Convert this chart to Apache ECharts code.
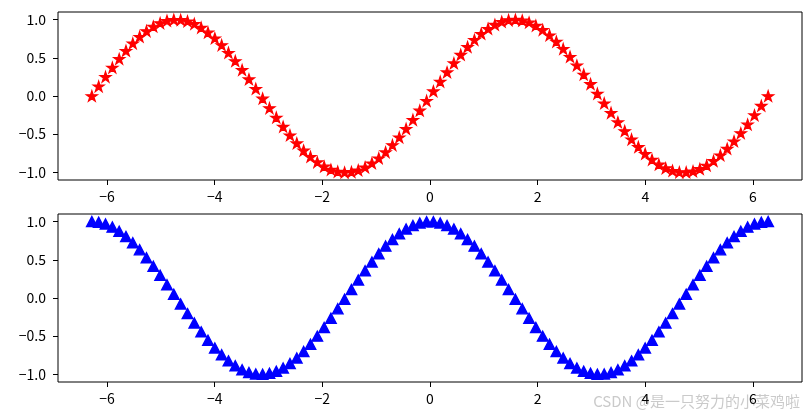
<!DOCTYPE html>
<html>
<head>
<meta charset="utf-8">
<script src="https://cdn.jsdelivr.net/npm/echarts@6/dist/echarts.min.js"></script>
<style>
html,body{margin:0;padding:0;background:#fff;}
#chart{width:812px;height:419px;}
</style>
</head>
<body>
<div id="chart"></div>
<script>
// x sampled from -2π to 2π (100 points)
const xValues = [
-6.283,-6.156,-6.029,-5.902,-5.775,-5.649,-5.522,-5.395,-5.268,-5.141,
-5.014,-4.887,-4.760,-4.633,-4.506,-4.379,-4.252,-4.125,-3.998,-3.871,
-3.745,-3.618,-3.491,-3.364,-3.237,-3.110,-2.983,-2.856,-2.729,-2.602,
-2.475,-2.348,-2.221,-2.094,-1.967,-1.841,-1.714,-1.587,-1.460,-1.333,
-1.206,-1.079,-0.952,-0.825,-0.698,-0.571,-0.444,-0.317,-0.190,-0.063,
0.063,0.190,0.317,0.444,0.571,0.698,0.825,0.952,1.079,1.206,
1.333,1.460,1.587,1.714,1.841,1.967,2.094,2.221,2.348,2.475,
2.602,2.729,2.856,2.983,3.110,3.237,3.364,3.491,3.618,3.745,
3.871,3.998,4.125,4.252,4.379,4.506,4.633,4.760,4.887,5.014,
5.141,5.268,5.395,5.522,5.649,5.775,5.902,6.029,6.156,6.283
];
// top panel: red stars
const sinValues = [
0.000,0.127,0.251,0.372,0.486,0.593,0.690,0.776,0.850,0.910,
0.955,0.985,0.999,0.997,0.979,0.945,0.896,0.833,0.756,0.667,
0.567,0.458,0.342,0.220,0.095,-0.032,-0.158,-0.282,-0.401,-0.514,
-0.618,-0.713,-0.796,-0.866,-0.922,-0.964,-0.990,-1.000,-0.994,-0.972,
-0.934,-0.881,-0.815,-0.735,-0.643,-0.541,-0.430,-0.312,-0.189,-0.063,
0.063,0.189,0.312,0.430,0.541,0.643,0.735,0.815,0.881,0.934,
0.972,0.994,1.000,0.990,0.964,0.922,0.866,0.796,0.713,0.618,
0.514,0.401,0.282,0.158,0.032,-0.095,-0.220,-0.342,-0.458,-0.567,
-0.667,-0.756,-0.833,-0.896,-0.945,-0.979,-0.997,-0.999,-0.985,-0.955,
-0.910,-0.850,-0.776,-0.690,-0.593,-0.486,-0.372,-0.251,-0.127,0.000
];
// bottom panel: blue triangles
const cosValues = [
1.000,0.992,0.968,0.928,0.874,0.805,0.724,0.631,0.527,0.415,
0.297,0.174,0.048,-0.079,-0.205,-0.327,-0.444,-0.554,-0.655,-0.745,
-0.824,-0.889,-0.940,-0.975,-0.995,-1.000,-0.987,-0.959,-0.916,-0.858,
-0.786,-0.701,-0.606,-0.500,-0.386,-0.266,-0.142,-0.016,0.111,0.236,
0.357,0.472,0.580,0.679,0.766,0.841,0.903,0.950,0.982,0.998,
0.998,0.982,0.950,0.903,0.841,0.766,0.679,0.580,0.472,0.357,
0.236,0.111,-0.016,-0.142,-0.266,-0.386,-0.500,-0.606,-0.701,-0.786,
-0.858,-0.916,-0.959,-0.987,-1.000,-0.995,-0.975,-0.940,-0.889,-0.824,
-0.745,-0.655,-0.554,-0.444,-0.327,-0.205,-0.079,0.048,0.174,0.297,
0.415,0.527,0.631,0.724,0.805,0.874,0.928,0.968,0.992,1.000
];
const xTicks = [-6, -4, -2, 0, 2, 4, 6];
const yTicks = [-1.0, -0.5, 0.0, 0.5, 1.0];
const watermark = 'CSDN @是一只努力的小菜鸡啦';

const FONT = '"Noto Sans CJK SC", "DejaVu Sans", sans-serif';
const starPath = 'path://M100 0L122.45 69.1L195.11 69.1L136.33 111.8L158.78 180.9L100 138.2L41.22 180.9L63.67 111.8L4.89 69.1L77.55 69.1Z';

function minusFmt(v, dec) {
  const s = dec ? Math.abs(v).toFixed(dec) : String(Math.abs(v));
  return (v < 0 ? '\u2212' : '') + s;
}

function xAxisCfg(idx) {
  return {
    type: 'value', gridIndex: idx, min: -6.912, max: 6.912, position: 'bottom',
    axisLine: {show: false, onZero: false},
    splitLine: {show: false},
    axisTick: {show: true, length: 5, lineStyle: {color: '#000', width: 1}, customValues: xTicks},
    axisLabel: {show: true, customValues: xTicks, margin: 10, color: '#000', fontSize: 14, fontFamily: FONT,
      formatter: v => minusFmt(v, 0)}
  };
}
function yAxisCfg(idx) {
  return {
    type: 'value', gridIndex: idx, min: -1.1, max: 1.1, position: 'left',
    axisLine: {show: false, onZero: false},
    splitLine: {show: false},
    axisTick: {show: true, length: 5, lineStyle: {color: '#000', width: 1}, customValues: yTicks},
    axisLabel: {show: true, customValues: yTicks, margin: 12, color: '#000', fontSize: 14, fontFamily: FONT,
      formatter: v => minusFmt(v, 1)}
  };
}

const chart = echarts.init(document.getElementById('chart'), null, {renderer: 'canvas'});
chart.setOption({
  animation: false,
  backgroundColor: '#fff',
  grid: [
    {left: 58, top: 12, width: 744, height: 168, show: true, borderColor: '#000', borderWidth: 1, backgroundColor: 'transparent'},
    {left: 58, top: 214, width: 744, height: 168, show: true, borderColor: '#000', borderWidth: 1, backgroundColor: 'transparent'}
  ],
  xAxis: [xAxisCfg(0), xAxisCfg(1)],
  yAxis: [yAxisCfg(0), yAxisCfg(1)],
  series: [
    {
      type: 'scatter', xAxisIndex: 0, yAxisIndex: 0,
      data: xValues.map((x, i) => [x, sinValues[i]]),
      symbol: starPath, symbolSize: [11, 10.5],
      itemStyle: {color: '#ff0000', borderColor: '#ff0000', borderWidth: 1.2, opacity: 1},
      clip: false
    },
    {
      type: 'scatter', xAxisIndex: 1, yAxisIndex: 1,
      data: xValues.map((x, i) => [x, cosValues[i]]),
      symbol: 'triangle', symbolSize: [10.5, 10],
      itemStyle: {color: '#0000ff', borderColor: '#0000ff', borderWidth: 1.4, opacity: 1},
      clip: false
    }
  ],
  graphic: [{
    type: 'text', right: 12, top: 394,
    style: {text: watermark, fill: 'rgba(150,150,150,0.5)', font: '15px ' + FONT}
  }]
});
</script>
</body>
</html>
